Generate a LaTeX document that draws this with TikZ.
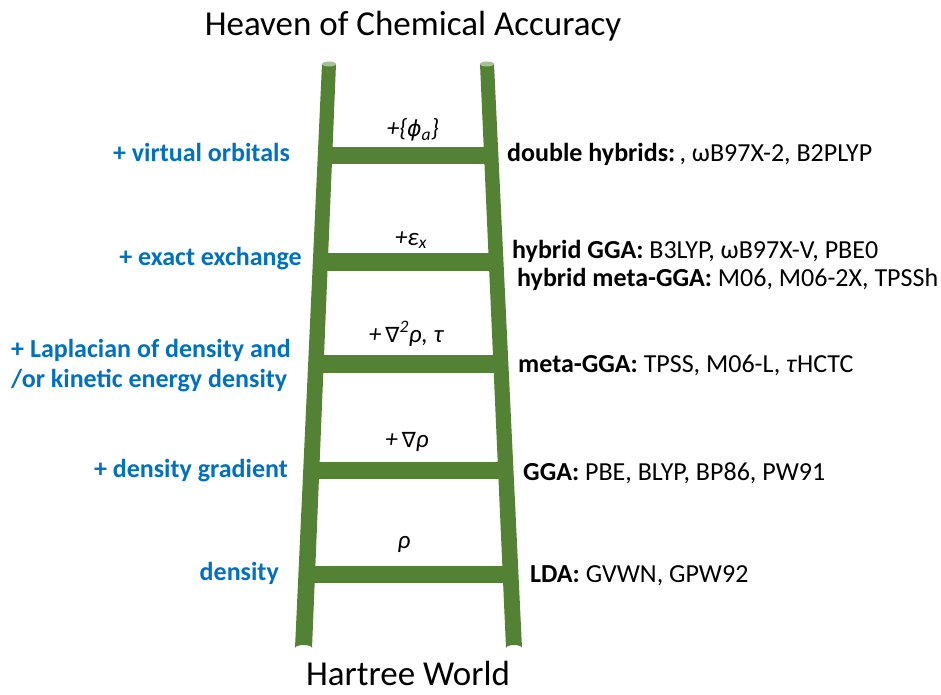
\documentclass[tikz,border=0pt]{standalone}
\usepackage{fontspec}
\setmainfont{Carlito}
\newfontfamily\symfont{DejaVu Sans}
\definecolor{railgreen}{HTML}{548235}
\definecolor{capgreen}{HTML}{A8C195}
\definecolor{stepblue}{HTML}{0070C0}
\newcommand{\grad}{{\symfont\itshape\fontsize{21}{24}\selectfont ∇}}
\newcommand{\orbphi}{{\symfont\itshape\fontsize{22}{26}\selectfont ϕ}}
\tikzset{
  rail/.style={fill=railgreen, draw=none},
  rung/.style={fill=railgreen, draw=none},
  railcap/.style={fill=capgreen, draw=none},
  stepname/.style={text=stepblue, font=\fontsize{26}{30}\selectfont\bfseries, inner sep=0pt},
  dfa/.style={text=black, font=\fontsize{26}{30}\selectfont, inner sep=0pt, anchor=base west},
  ingredient/.style={text=black, font=\fontsize{25}{30}\selectfont\itshape, inner sep=0pt, anchor=base},
  endlabel/.style={text=black, font=\fontsize{35}{40}\selectfont, inner sep=0pt, anchor=base}
}
\begin{document}
\begin{tikzpicture}[x=1pt,y=-1pt]
\useasboundingbox (0,0) rectangle (941,695);

% rungs
\fill[rung] (325,147) rectangle (490,164);
\fill[rung] (320,253) rectangle (495,271);
\fill[rung] (315,355) rectangle (500,373);
\fill[rung] (310,462) rectangle (506,479);
\fill[rung] (305,566) rectangle (511,583);

% left rail
\fill[rail] (322,64) -- (336,64) -- (312,648)
  arc[start angle=0, end angle=-180, x radius=8.5, y radius=3] -- cycle;
\fill[railcap] (329,64) ellipse[x radius=7, y radius=2.5];
% right rail
\fill[rail] (480,64) -- (494,64) -- (522,648)
  arc[start angle=0, end angle=-180, x radius=8, y radius=3] -- cycle;
\fill[railcap] (487,64) ellipse[x radius=7, y radius=2.5];

% top and bottom
\node[endlabel] (heaven) at (413,36) {Heaven of Chemical Accuracy};
\node[endlabel] (hartree) at (408,685) {Hartree World};

% ingredients on each rung
\node[ingredient] (ing5) at (413,137) {+\{\orbphi\textsubscript{a}\}};
\node[ingredient] (ing4) at (411,245) {+ε\textsubscript{x}};
\node[ingredient] (ing3) at (406,342) {+\,\grad\textsuperscript{2}ρ, τ};
\node[ingredient] (ing2) at (407,447) {+\,\grad ρ};
\node[ingredient] (ing1) at (404,548) {ρ};

% rung names
\node[stepname, anchor=base east] (s5) at (290,162) {+ virtual orbitals};
\node[stepname, anchor=base east] (s4) at (302,265) {+ exact exchange};
\node[stepname, anchor=base west] (s3a) at (11,357) {+ Laplacian of density and};
\node[stepname, anchor=base west] (s3b) at (11,387) {/or kinetic energy density};
\node[stepname, anchor=base east] (s2) at (288,477) {+ density gradient};
\node[stepname, anchor=base east] (s1) at (279,580) {density};

% functionals
\node[dfa] (f5) at (507,162) {\textbf{double hybrids:}\,, ωB97X-2, B2PLYP};
\node[dfa] (f4a) at (512,258) {\textbf{hybrid GGA:} B3LYP, ωB97X-V, PBE0};
\node[dfa] (f4b) at (517,286) {\textbf{hybrid meta-GGA:} M06, M06-2X, TPSSh};
\node[dfa] (f3) at (518,372) {\textbf{meta-GGA:} TPSS, M06-L, \textit{τ}HCTC};
\node[dfa] (f2) at (523,480) {\textbf{GGA:} PBE, BLYP, BP86, PW91};
\node[dfa] (f1) at (530,582) {\textbf{LDA:} GVWN, GPW92};
\end{tikzpicture}
\end{document}
